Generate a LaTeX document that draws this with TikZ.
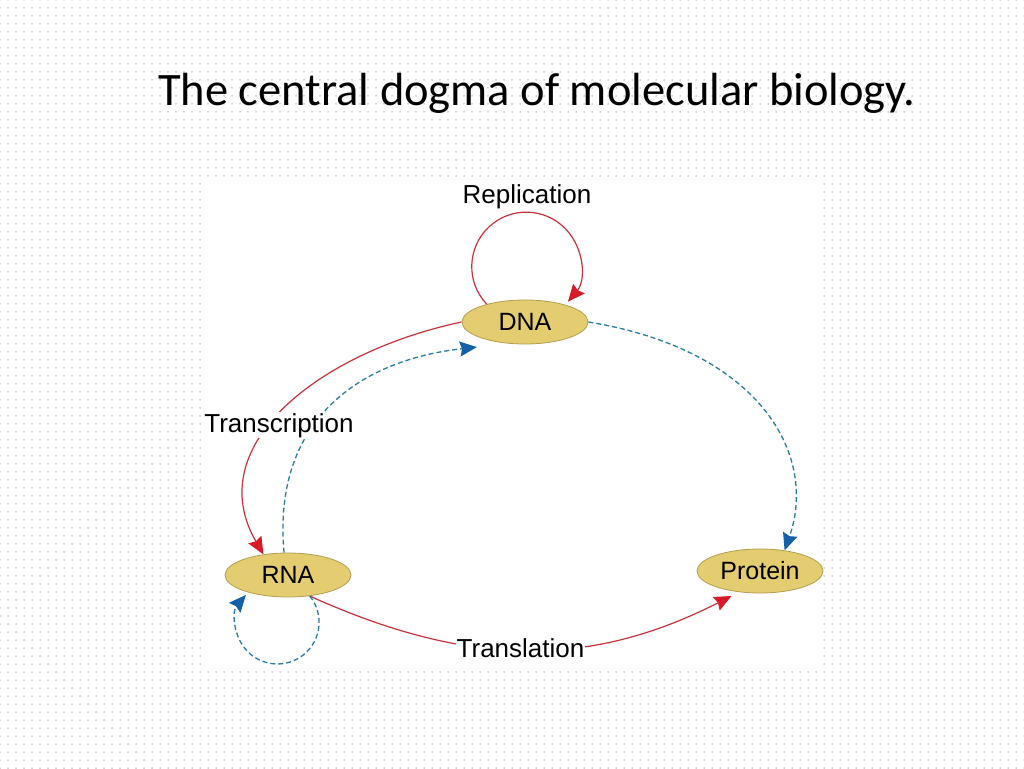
\documentclass[tikz,border=0pt]{standalone}
\usepackage{fontspec}
\setmainfont{Liberation Sans}
\newfontfamily\titlefont{Carlito}
\usetikzlibrary{arrows.meta,patterns.meta,shapes.geometric}
\definecolor{nodefill}{RGB}{227,205,112}
\definecolor{nodeline}{RGB}{178,158,80}
\definecolor{redline}{RGB}{200,50,60}
\definecolor{redtip}{RGB}{215,25,40}
\definecolor{blueline}{RGB}{40,125,160}
\definecolor{bluetip}{RGB}{20,95,165}
\definecolor{dotcol}{RGB}{160,164,176}
\begin{document}
\begin{tikzpicture}[x=1pt,y=-1pt,
  mol/.style={ellipse, draw=nodeline, line width=0.8pt, fill=nodefill,
    minimum width=126pt, minimum height=44pt, inner sep=0pt,
    font=\fontsize{25}{29}\selectfont},
  lbl/.style={font=\fontsize{26}{30}\selectfont, inner sep=1pt, fill=white},
  redarrow/.style={draw=redline, line width=1.2pt,
    -{Stealth[length=17pt,width=15pt,inset=2pt,color=redtip]}},
  bluearrow/.style={draw=blueline, line width=1.3pt, dash pattern=on 5pt off 3pt,
    -{Stealth[length=17pt,width=15pt,inset=2pt,color=bluetip]}},
]
\useasboundingbox (0,0) rectangle (1024,768);
\fill[white] (0,0) rectangle (1024,768);
\fill[pattern={Dots[radius=0.75pt,distance=8pt]}, pattern color=dotcol] (0,0) rectangle (1024,768);
\fill[white] (204,178) rectangle (822,668);

\node[anchor=base west, inner sep=0pt, font=\titlefont\fontsize{46.5}{50}\selectfont] (title) at (158,105) {The central dogma of molecular biology.};

\node[mol] (DNA) at (525,322) {DNA};
\node[mol] (RNA) at (288,575) {RNA};
\node[mol] (Protein) at (760,571) {Protein};

% replication loop
\draw[redarrow] (DNA.155) arc[start angle=136.5, end angle=400, radius=54.5];
% transcription
\draw[redarrow] (DNA.west) .. controls (320,352) and (200,445) .. (RNA.140);
% reverse transcription
\draw[bluearrow] (RNA.100) .. controls (272,420) and (360,360) .. ([xshift=-4pt,yshift=-9pt]DNA.200);
% DNA -> protein
\draw[bluearrow] (DNA.east) .. controls (760,350) and (818,455) .. (Protein.40);
% translation
\draw[redarrow] (RNA.-44) .. controls (469,668) and (590,668) .. ([yshift=-5pt]Protein.215);
% RNA replication loop
\draw[bluearrow] (RNA.-44) arc[start angle=-39, end angle=221, radius=41.7];

\node[lbl, anchor=base] (rep) at (527,203) {Replication};
\node[lbl, anchor=base] (trc) at (279,432) {Transcription};
\node[lbl, anchor=base] (trl) at (520.5,657) {Translation};
\end{tikzpicture}
\end{document}
